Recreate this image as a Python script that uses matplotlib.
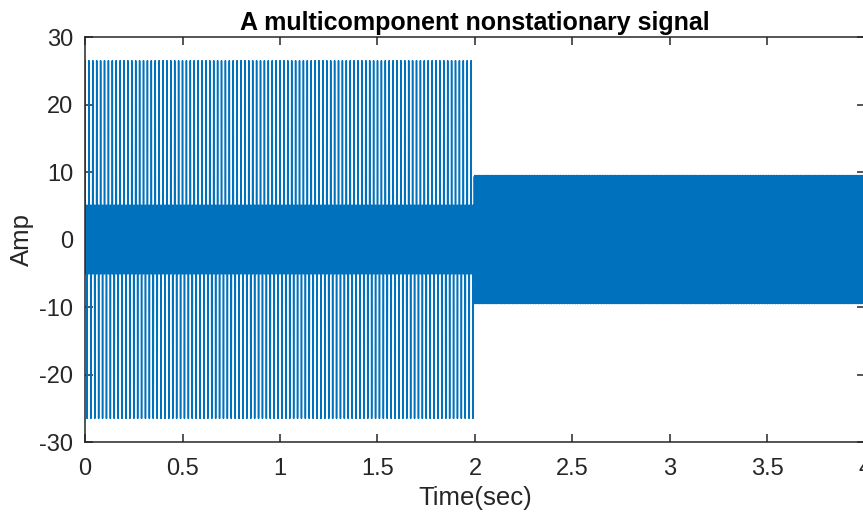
import numpy as np
import matplotlib.pyplot as plt

plt.rcParams['font.family'] = ['Liberation Sans', 'DejaVu Sans']
plt.rcParams['axes.unicode_minus'] = False

# sampling and segment layout (seconds)
fs = 4000
duration = 4.0
switch_time = 1.995

# first half: odd harmonics of 50 Hz, gently tapered weights
harmonic_freqs = [50, 150, 250, 350, 450]
harmonic_amps = [5.7, 5.5, 5.3, 5.1, 4.9]

# second half: a single fast tone
tone_freq = 317.0
tone_amp = 9.5

t = np.arange(0, duration, 1 / fs)
first = t < switch_time

x = np.zeros_like(t)
for f, a in zip(harmonic_freqs, harmonic_amps):
    x[first] += a * np.cos(2 * np.pi * f * t[first])
x[~first] = tone_amp * np.cos(2 * np.pi * tone_freq * t[~first])

ink = '#262626'
fig = plt.figure(figsize=(8.63, 5.15), dpi=100)
ax = fig.add_axes([0.0985, 0.1417, 0.9038, 0.7864])
ax.plot(t, x, color='#0072BD', linewidth=1.1)

ax.set_xlim(0, 4)
ax.set_ylim(-30, 30)
ax.set_xticks(np.arange(0, 4.01, 0.5))
ax.set_xticklabels(['0', '0.5', '1', '1.5', '2', '2.5', '3', '3.5', '4'])
ax.set_yticks(np.arange(-30, 31, 10))
ax.tick_params(direction='in', length=6, width=1.1, colors=ink,
               labelsize=17, top=True, right=True)
ax.tick_params(axis='x', pad=11.5)
ax.tick_params(axis='y', pad=8.5)
for s in ax.spines.values():
    s.set_color(ink)
    s.set_linewidth(1.1)

ax.set_title('A multicomponent nonstationary signal', fontsize=18,
             fontweight='bold', color='black', pad=5)
ax.set_xlabel('Time(sec)', fontsize=18.5, color=ink, labelpad=4)
ax.set_ylabel('Amp', fontsize=18.5, color=ink, labelpad=4)

fig.savefig('out.png', dpi=100)
